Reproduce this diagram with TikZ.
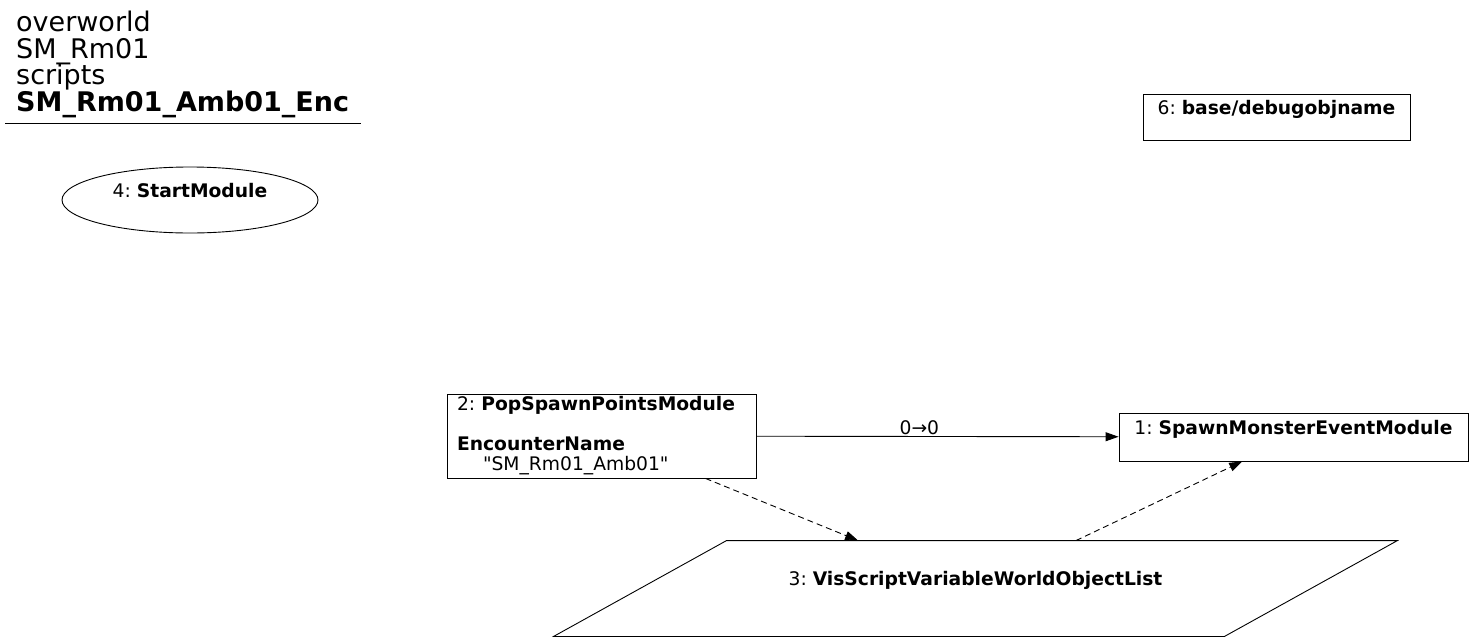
\documentclass[tikz,border=0pt]{standalone}
\usepackage{fontspec}
\newfontfamily\gvfont{DejaVu Sans}
\usetikzlibrary{arrows.meta,shapes.geometric}

\begin{document}
\begin{tikzpicture}[x=1pt,y=-1pt,
    modbox/.style={draw,line width=0.9pt,inner sep=0pt,align=center,font=\gvfont\fontsize{18.7}{20}\selectfont\frenchspacing},
    link/.style={line width=0.9pt,-{Triangle[length=13pt,width=9pt]}},
    varlink/.style={link,dash pattern=on 6pt off 4pt},
    headtext/.style={anchor=base west,inner sep=0pt,font=\gvfont\fontsize{27}{30}\selectfont}]
    \useasboundingbox (0,0) rectangle (1475,643);

    % Header
    \node[headtext] (hworld) at (16,31) {overworld};
    \node[headtext] (hroom) at (16,58) {SM\_Rm01};
    \node[headtext] (hdir) at (16,84) {scripts};
    \node[headtext] (hname) at (16,111) {\textbf{SM\_Rm01\_Amb01\_Enc}};
    \draw[line width=0.9pt] (5,123) -- (361,123);

    % Modules
    \node[modbox,ellipse,minimum width=256pt,minimum height=66pt] (start) at (190,200) {4: \textbf{StartModule}\\\mbox{}};
    \node[modbox,minimum width=267pt,minimum height=46pt] (debug) at (1276.5,117) {6: \textbf{base/debugobjname}\\\mbox{}};
    \node[modbox,align=left,inner xsep=10pt,text width=289pt,minimum height=84pt] (popspawn) at (601.5,436)
        {2: \textbf{PopSpawnPointsModule}\\\mbox{}\\\textbf{EncounterName}\\\hspace*{26pt}"SM\_Rm01\_Amb01"};
    \node[modbox,minimum width=349pt,minimum height=48pt] (monster) at (1293.5,437) {1: \textbf{SpawnMonsterEventModule}\\\mbox{}};

    % Variable
    \node[modbox,draw=none,minimum width=843pt,minimum height=95pt] (varlist) at (975.5,588.5) {3: \textbf{VisScriptVariableWorldObjectList}\\\mbox{}};
    \draw[line width=0.9pt] ([xshift=173pt]varlist.north west) -- (varlist.north east) -- ([xshift=-173pt]varlist.south east) -- (varlist.south west) -- cycle;

    % Links
    \draw[link] (popspawn) -- node[pos=0.45,above,inner sep=1pt,font=\gvfont\fontsize{18.7}{20}\selectfont] {0→0} (monster);
    \draw[varlink] (popspawn) -- (varlist);
    \draw[varlink] (varlist) -- (monster);
\end{tikzpicture}
\end{document}
